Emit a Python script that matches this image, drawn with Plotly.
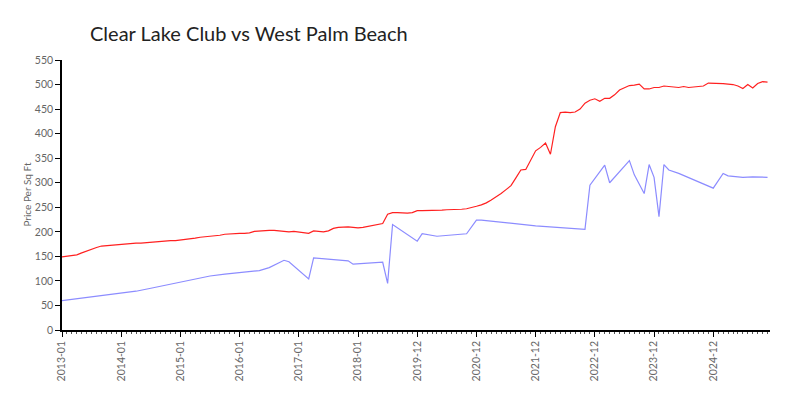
import pandas as pd
import plotly.graph_objects as go

# month categories (some 2018/2019 months are missing in the source data)
months = [d.strftime("%Y-%m") for d in pd.date_range("2013-01", "2018-03", freq="MS")]
months += [d.strftime("%Y-%m") for d in pd.date_range("2019-03", "2025-11", freq="MS")]

# Clear Lake Club - monthly price per sq ft
clear_lake = [
    149, 150, 152, 153, 157, 161, 165, 168, 171, 172, 173, 174,
    175, 175, 176, 177, 177, 178, 179, 180, 181, 181, 182, 182,
    183, 184, 185, 187, 189, 190, 190, 191, 193, 195, 196, 197,
    197, 197, 198, 201, 202, 202, 203, 203, 202, 200, 200, 201,
    200, 199, 197, 202, 201, 200, 202, 207, 209, 210, 210, 209,
    208, 209, 211, 214, 215, 217, 236, 239, 239, 238, 238, 239,
    243, 243, 243, 244, 244, 244, 245, 245, 245, 246, 247, 249,
    252, 255, 259, 265, 271, 278, 286, 294, 310, 326, 327, 345,
    365, 372, 381, 358, 414, 443, 444, 443, 444, 450, 462, 468,
    471, 466, 472, 472, 479, 489, 494, 498, 499, 501, 491, 491,
    494, 494, 497, 496, 495, 494, 496, 494, 495, 496, 497, 503,
    503, 502, 502, 501, 500, 497, 492, 500, 493, 502, 506, 505,
]

# West Palm Beach - only some months have a value
wpb_months = [
    "2013-01", "2014-01", "2014-04", "2014-07", "2014-10", "2015-01", "2015-04",
    "2015-07", "2015-10", "2016-01", "2016-05", "2016-07", "2016-09", "2016-10",
    "2016-11", "2017-03", "2017-04", "2017-11", "2017-12", "2019-05", "2019-06",
    "2019-07", "2019-12", "2020-01", "2020-04", "2020-10", "2020-12", "2021-01",
    "2021-12", "2022-10", "2022-11", "2023-02", "2023-03", "2023-07", "2023-08",
    "2023-10", "2023-11", "2023-12", "2024-01", "2024-02", "2024-03", "2024-05",
    "2024-12", "2025-02", "2025-03", "2025-06", "2025-08", "2025-11",
]
wpb_values = [
    60, 74, 79, 85, 91, 98, 104,
    110, 114, 117, 121, 127, 137, 142,
    139, 104, 147, 141, 134, 138, 95,
    215, 181, 196, 191, 196, 224, 224,
    212, 205, 295, 336, 300, 345, 316,
    278, 337, 311, 231, 337, 326, 319,
    289, 319, 314, 311, 312, 311,
]

x_all = list(range(len(months)))
x_wpb = [months.index(m) for m in wpb_months]

fig = go.Figure()

fig.add_trace(go.Scatter(
    x=x_all, y=clear_lake, mode="lines",
    line=dict(color="#ff2020", width=1.2),
    name="Clear Lake Club",
))
fig.add_trace(go.Scatter(
    x=x_wpb, y=wpb_values, mode="lines",
    line=dict(color="#8c8cff", width=1.2),
    name="West Palm Beach",
))

tick_idx = x_all[::12]

# y axis title placed by hand, closer to the tick labels
fig.add_annotation(
    text="Price Per Sq Ft", textangle=-90,
    xref="paper", yref="paper", x=-0.05, y=0.5,
    xanchor="center", yanchor="middle", showarrow=False,
    font=dict(size=10, color="#666666"),
)

fig.update_layout(
    width=800, height=400,
    paper_bgcolor="white", plot_bgcolor="white",
    showlegend=False,
    margin=dict(l=62, r=30, t=60, b=70),
    font=dict(family="Lato", color="#555555", size=11),
    title=dict(
        text="Clear Lake Club vs West Palm Beach",
        x=0.1125, xanchor="left", y=0.915, yanchor="middle",
        font=dict(family="Lato", size=20, color="#222222"),
    ),
    xaxis=dict(
        range=[0, len(months) - 0.5],
        tickmode="array", tickvals=tick_idx,
        ticktext=[months[i] for i in tick_idx],
        tickangle=-90,
        ticks="outside", ticklen=5, tickcolor="black",
        minor=dict(ticks="outside", dtick=1, tick0=0, ticklen=2, tickcolor="#555"),
        showline=True, linecolor="black", linewidth=1.5,
        showgrid=False, zeroline=False, automargin=False,
        tickfont=dict(size=10.5, color="#666666"),
    ),
    yaxis=dict(
        range=[0, 550], dtick=50,
        ticks="outside", ticklen=5, tickcolor="black",
        showline=True, linecolor="black", linewidth=1.5,
        showgrid=False, zeroline=False, automargin=False,
        tickfont=dict(size=10.5, color="#666666"),
    ),
)

fig.write_html("out.html", config={"displayModeBar": False},
               post_script="document.body.style.margin='0';")
